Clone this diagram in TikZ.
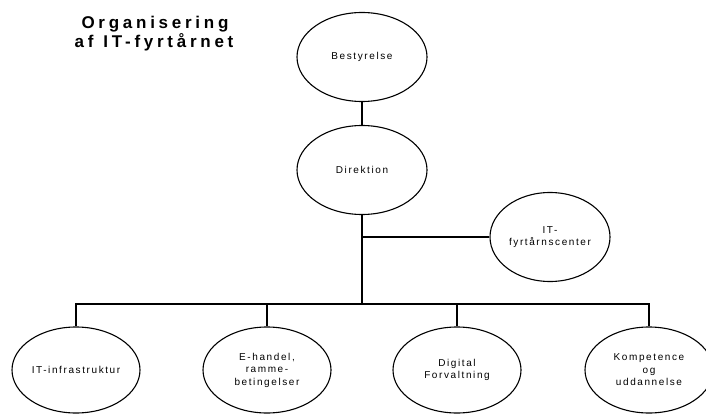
\documentclass[tikz,border=0pt]{standalone}
\usepackage{fontspec}
\setmainfont{Liberation Sans}
\newfontfamily\smallspaced[LetterSpace=16]{Liberation Sans}
\newfontfamily\titlespaced[LetterSpace=22]{Liberation Sans}
\usetikzlibrary{shapes.geometric}
\begin{document}
\begin{tikzpicture}[x=1pt,y=-1pt,
  org/.style={draw, line width=1.1pt, ellipse, inner sep=0pt, align=center,
    font=\smallspaced\fontsize{10}{12.5}\selectfont},
  bigorg/.style={org, minimum width=130pt, minimum height=89pt},
  sideorg/.style={org, minimum width=120pt, minimum height=89pt},
  botorg/.style={org, minimum width=128pt, minimum height=86pt},
  link/.style={draw, line width=1.1pt},
  ttl/.style={anchor=base, inner sep=0pt, font=\titlespaced\bfseries\fontsize{17}{19}\selectfont}]
\useasboundingbox (0,0) rectangle (706,414);
\node[ttl] (t1) at (155,29) {Organisering};
\node[ttl] (t2) at (154,48) {\mbox{af}\hspace{10pt}\mbox{IT-fyrtårnet}};
\node[bigorg] (best) at (362,57) {Bestyrelse};
\node[bigorg] (dir) at (362,170) {Direktion};
\node[sideorg] (itc) at (550,237) {IT-\\fyrtårnscenter};
\node[botorg] (b1) at (76,370) {IT-infrastruktur};
\node[botorg] (b2) at (267,370) {E-handel,\\ramme-\\betingelser};
\node[botorg] (b3) at (457,370) {Digital\\Forvaltning};
\node[botorg] (b4) at (649,370) {Kompetence\\og\\uddannelse};
\coordinate (br) at (362,237);
\coordinate (bus) at (362,304);
\draw[link] (best.south) -- (dir.north);
\draw[link] (dir.south) -- (bus);
\draw[link] (br) -- (itc.west);
\draw[link] (bus) -| (b1.north);
\draw[link] (bus) -| (b2.north);
\draw[link] (bus) -| (b3.north);
\draw[link] (bus) -| (b4.north);
\end{tikzpicture}
\end{document}
